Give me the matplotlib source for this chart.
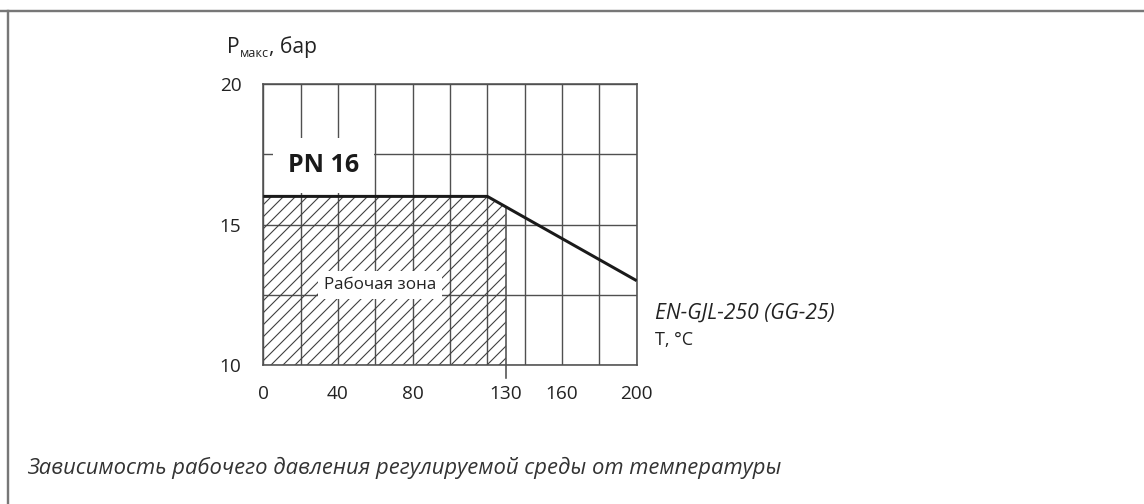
import matplotlib
matplotlib.use("Agg")
import matplotlib.pyplot as plt
from matplotlib.lines import Line2D
import numpy as np

plt.rcParams['font.family'] = ['Open Sans', 'DejaVu Sans']
plt.rcParams['hatch.linewidth'] = 0.55

# data
temp = [0, 120, 200]           # T, °C
p_max = [16, 16, 13]           # P max, bar
zone_t = [0, 120, 130]         # working zone (hatched) temperature edges
zone_bottom = 10
xtick_vals = [0, 40, 80, 130, 160, 200]
ytick_vals = [10, 15, 20]

grid_col = '#505050'
ink = '#1a1a1a'

DPI = 144
fig = plt.figure(figsize=(1144 / DPI, 504 / DPI), dpi=DPI)
ax = fig.add_axes([263.3 / 1144, 1 - 365 / 504, (636.7 - 263.3) / 1144, (365 - 84) / 504])

ax.set_xlim(0, 200)
ax.set_ylim(10, 20)

# grid on minor ticks, labels on major
ax.xaxis.remove_overlapping_locs = False
ax.yaxis.remove_overlapping_locs = False
ax.set_xticks(xtick_vals)
ax.set_xticks(np.arange(0, 201, 20), minor=True)
ax.set_yticks(ytick_vals)
ax.set_yticks(np.arange(10, 20.1, 2.5), minor=True)
ax.grid(which='minor', color=grid_col, lw=0.7)
ax.set_axisbelow(True)
ax.tick_params(which='both', length=0)
ax.tick_params(axis='x', pad=10, labelsize=9.5, colors='#222222')
ax.tick_params(axis='y', pad=11, labelsize=9.5, colors='#222222')
for s in ax.spines.values():
    s.set_color(grid_col)
    s.set_linewidth(0.8)

# working zone under the curve
zone_top = np.interp(zone_t, temp, p_max)
ax.fill_between(zone_t, zone_bottom, zone_top, facecolor='none', edgecolor='#404040',
                hatch='////', lw=0, zorder=2)
ax.plot([zone_t[-1], zone_t[-1]], [zone_bottom - 0.45, zone_top[-1]], color=grid_col,
        lw=0.8, clip_on=False, zorder=2)

# max pressure line
ax.plot(temp, p_max, color=ink, lw=1.5, zorder=5, solid_capstyle='butt')

ax.text(13, 17.1, 'PN 16', fontsize=12.5, fontweight='bold', color=ink, va='center',
        ha='left', zorder=4,
        bbox=dict(facecolor='white', edgecolor='none', boxstyle='square,pad=0.6'))
ax.text(62.5, 12.85, 'Рабочая зона', fontsize=8.5, color='#222222', va='center',
        ha='center', zorder=4,
        bbox=dict(facecolor='white', edgecolor='none', boxstyle='square,pad=0.35'))

# axis labels
t1 = fig.text(227 / 1144, 1 - 58 / 504, 'P', fontsize=10.5, color='#222222', va='bottom')
t2 = ax.annotate('макс', xy=(1, 0), xycoords=t1, xytext=(0.3, -1.2),
                 textcoords='offset points', fontsize=6.3, color='#222222', va='bottom')
ax.annotate(', бар', xy=(1, 0), xycoords=t2, xytext=(0, 1.2),
            textcoords='offset points', fontsize=10.5, color='#222222', va='bottom')
fig.text(655 / 1144, 1 - 340 / 504, 'T, °C', fontsize=9, color='#222222', va='center')
fig.text(655 / 1144, 1 - 313 / 504, 'EN-GJL-250 (GG-25)', fontsize=10.5, style='italic',
         color='#222222', va='center')

fig.text(27 / 1144, 1 - 468 / 504, 'Зависимость рабочего давления регулируемой среды от температуры',
         fontsize=11, style='italic', color='#333333', va='center')

# frame lines (top and left)
fig.add_artist(Line2D([0, 1], [1 - 11 / 504, 1 - 11 / 504], transform=fig.transFigure,
                      color='#777777', lw=1.2))
fig.add_artist(Line2D([7.5 / 1144, 7.5 / 1144], [0, 1 - 11 / 504], transform=fig.transFigure,
                      color='#777777', lw=1.2))

fig.savefig('out.png', dpi=DPI)
